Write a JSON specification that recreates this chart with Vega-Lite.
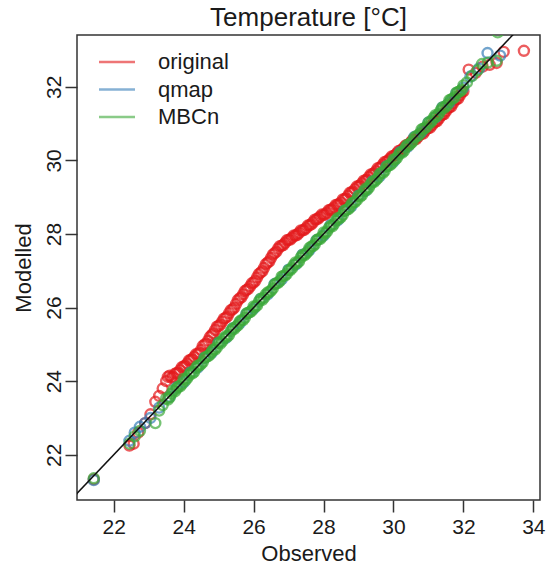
{
  "$schema": "https://vega.github.io/schema/vega-lite/v6.json",
  "width": 463,
  "height": 465,
  "autosize": {"type": "none"},
  "padding": {"left": 77, "top": 35, "right": 6, "bottom": 67},
  "background": "white",
  "config": {
    "font": "Liberation Sans",
    "view": {"stroke": "#333333", "strokeWidth": 1.5},
    "axis": {"grid": false, "domain": false, "tickSize": 12, "tickWidth": 1.5, "tickColor": "#333333", "labelFontSize": 21, "labelColor": "#1a1a1a", "titleFontSize": 22, "titleFontWeight": "normal", "titleColor": "#1a1a1a", "labelFont": "Liberation Sans", "titleFont": "Liberation Sans"}
  },
  "title": {"text": "Temperature [°C]", "fontSize": 26, "fontWeight": "normal", "color": "#1a1a1a", "font": "Liberation Sans", "offset": 4},
  "layer": [
    {
      "data": {"values": [
        {"s":"original","x":21.43,"y":21.33},{"s":"original","x":22.45,"y":22.25},{"s":"original","x":22.57,"y":22.3},{"s":"original","x":22.7,"y":22.6},{"s":"original","x":22.9,"y":22.86},{"s":"original","x":23.05,"y":23.1},{"s":"original","x":23.19,"y":23.44},{"s":"original","x":23.3,"y":23.6},{"s":"original","x":23.4,"y":23.8},
        {"s":"original","x":23.5,"y":24.0},{"s":"original","x":23.6,"y":24.15},{"s":"original","x":23.7,"y":24.12},{"s":"original","x":23.8,"y":24.22},{"s":"original","x":23.9,"y":24.3},{"s":"original","x":24.0,"y":24.4},{"s":"original","x":24.1,"y":24.48},{"s":"original","x":24.2,"y":24.58},{"s":"original","x":24.3,"y":24.66},{"s":"original","x":24.4,"y":24.74},{"s":"original","x":24.5,"y":24.85},{"s":"original","x":24.6,"y":25.0},{"s":"original","x":24.7,"y":25.1},{"s":"original","x":24.8,"y":25.25},{"s":"original","x":24.9,"y":25.39},{"s":"original","x":25.0,"y":25.5},{"s":"original","x":25.1,"y":25.62},{"s":"original","x":25.2,"y":25.72},{"s":"original","x":25.3,"y":25.85},{"s":"original","x":25.4,"y":25.95},{"s":"original","x":25.5,"y":26.1},{"s":"original","x":25.6,"y":26.25},{"s":"original","x":25.7,"y":26.36},{"s":"original","x":25.8,"y":26.48},{"s":"original","x":25.9,"y":26.58},{"s":"original","x":26.0,"y":26.68},{"s":"original","x":26.1,"y":26.82},{"s":"original","x":26.2,"y":26.95},{"s":"original","x":26.3,"y":27.08},{"s":"original","x":26.4,"y":27.22},{"s":"original","x":26.5,"y":27.35},{"s":"original","x":26.6,"y":27.48},{"s":"original","x":26.7,"y":27.6},{"s":"original","x":26.8,"y":27.68},{"s":"original","x":26.9,"y":27.76},{"s":"original","x":27.0,"y":27.84},{"s":"original","x":27.1,"y":27.9},{"s":"original","x":27.2,"y":27.96},{"s":"original","x":27.3,"y":28.03},{"s":"original","x":27.4,"y":28.1},{"s":"original","x":27.5,"y":28.16},{"s":"original","x":27.6,"y":28.24},{"s":"original","x":27.7,"y":28.32},{"s":"original","x":27.8,"y":28.4},{"s":"original","x":27.9,"y":28.47},{"s":"original","x":28.0,"y":28.52},{"s":"original","x":28.1,"y":28.58},{"s":"original","x":28.2,"y":28.66},{"s":"original","x":28.3,"y":28.72},{"s":"original","x":28.4,"y":28.8},{"s":"original","x":28.5,"y":28.86},{"s":"original","x":28.6,"y":28.95},{"s":"original","x":28.7,"y":29.04},{"s":"original","x":28.8,"y":29.13},{"s":"original","x":28.9,"y":29.22},{"s":"original","x":29.0,"y":29.3},{"s":"original","x":29.1,"y":29.38},{"s":"original","x":29.2,"y":29.46},{"s":"original","x":29.3,"y":29.55},{"s":"original","x":29.4,"y":29.63},{"s":"original","x":29.5,"y":29.71},{"s":"original","x":29.6,"y":29.8},{"s":"original","x":29.7,"y":29.89},{"s":"original","x":29.8,"y":29.97},{"s":"original","x":29.9,"y":30.05},{"s":"original","x":30.0,"y":30.12},{"s":"original","x":30.1,"y":30.2},{"s":"original","x":30.2,"y":30.27},{"s":"original","x":30.3,"y":30.35},{"s":"original","x":30.4,"y":30.42},{"s":"original","x":30.5,"y":30.5},{"s":"original","x":30.6,"y":30.57},{"s":"original","x":30.7,"y":30.64},{"s":"original","x":30.8,"y":30.72},{"s":"original","x":30.9,"y":30.8},{"s":"original","x":31.0,"y":30.88},{"s":"original","x":31.1,"y":30.96},{"s":"original","x":31.2,"y":31.05},{"s":"original","x":31.3,"y":31.14},{"s":"original","x":31.4,"y":31.24},{"s":"original","x":31.5,"y":31.34},{"s":"original","x":31.6,"y":31.44},{"s":"original","x":31.7,"y":31.55},{"s":"original","x":31.8,"y":31.66},{"s":"original","x":31.9,"y":31.77},{"s":"original","x":32.0,"y":31.88},
        {"s":"original","x":23.55,"y":24.12},{"s":"original","x":23.65,"y":24.1},{"s":"original","x":23.75,"y":24.2},{"s":"original","x":23.85,"y":24.23},{"s":"original","x":23.95,"y":24.38},{"s":"original","x":24.05,"y":24.42},{"s":"original","x":24.15,"y":24.56},{"s":"original","x":24.25,"y":24.6},{"s":"original","x":24.35,"y":24.73},{"s":"original","x":24.45,"y":24.77},{"s":"original","x":24.55,"y":24.96},{"s":"original","x":24.65,"y":25.02},{"s":"original","x":24.75,"y":25.2},{"s":"original","x":24.85,"y":25.3},{"s":"original","x":24.95,"y":25.48},{"s":"original","x":25.05,"y":25.54},{"s":"original","x":25.15,"y":25.7},{"s":"original","x":25.25,"y":25.76},{"s":"original","x":25.35,"y":25.93},{"s":"original","x":25.45,"y":26.0},{"s":"original","x":25.55,"y":26.2},{"s":"original","x":25.65,"y":26.28},{"s":"original","x":25.75,"y":26.45},{"s":"original","x":25.85,"y":26.51},{"s":"original","x":25.95,"y":26.66},{"s":"original","x":26.05,"y":26.73},{"s":"original","x":26.15,"y":26.91},{"s":"original","x":26.25,"y":26.99},{"s":"original","x":26.35,"y":27.18},{"s":"original","x":26.45,"y":27.26},{"s":"original","x":26.55,"y":27.44},{"s":"original","x":26.65,"y":27.52},{"s":"original","x":26.75,"y":27.67},{"s":"original","x":26.85,"y":27.7},{"s":"original","x":26.95,"y":27.83},{"s":"original","x":27.05,"y":27.85},{"s":"original","x":27.15,"y":27.96},{"s":"original","x":27.25,"y":27.98},{"s":"original","x":27.35,"y":28.1},{"s":"original","x":27.45,"y":28.11},{"s":"original","x":27.55,"y":28.23},{"s":"original","x":27.65,"y":28.26},{"s":"original","x":27.75,"y":28.39},{"s":"original","x":27.85,"y":28.42},{"s":"original","x":27.95,"y":28.53},{"s":"original","x":28.05,"y":28.53},{"s":"original","x":28.15,"y":28.65},{"s":"original","x":28.25,"y":28.67},{"s":"original","x":28.35,"y":28.79},{"s":"original","x":28.45,"y":28.81},{"s":"original","x":28.55,"y":28.94},{"s":"original","x":28.65,"y":28.97},{"s":"original","x":28.75,"y":29.12},{"s":"original","x":28.85,"y":29.15},{"s":"original","x":28.95,"y":29.29},{"s":"original","x":29.05,"y":29.32},{"s":"original","x":29.15,"y":29.45},{"s":"original","x":29.25,"y":29.48},{"s":"original","x":29.35,"y":29.62},{"s":"original","x":29.45,"y":29.65},{"s":"original","x":29.55,"y":29.79},{"s":"original","x":29.65,"y":29.82},{"s":"original","x":29.75,"y":29.96},{"s":"original","x":29.85,"y":29.99},{"s":"original","x":29.95,"y":30.11},{"s":"original","x":30.05,"y":30.14},{"s":"original","x":30.15,"y":30.26},{"s":"original","x":30.25,"y":30.29},{"s":"original","x":30.35,"y":30.41},{"s":"original","x":30.45,"y":30.44},{"s":"original","x":30.55,"y":30.56},{"s":"original","x":30.65,"y":30.58},{"s":"original","x":30.75,"y":30.71},{"s":"original","x":30.85,"y":30.73},{"s":"original","x":30.95,"y":30.87},{"s":"original","x":31.05,"y":30.89},{"s":"original","x":31.15,"y":31.03},{"s":"original","x":31.25,"y":31.07},{"s":"original","x":31.35,"y":31.22},{"s":"original","x":31.45,"y":31.26},{"s":"original","x":31.55,"y":31.42},{"s":"original","x":31.65,"y":31.46},{"s":"original","x":31.75,"y":31.63},{"s":"original","x":31.85,"y":31.68},{"s":"original","x":31.95,"y":31.85},
        {"s":"original","x":32.15,"y":32.47},{"s":"original","x":32.35,"y":32.38},{"s":"original","x":32.55,"y":32.55},{"s":"original","x":32.75,"y":32.6},{"s":"original","x":32.95,"y":32.65},{"s":"original","x":33.15,"y":32.95},{"s":"original","x":33.73,"y":32.98},
        {"s":"qmap","x":21.43,"y":21.31},{"s":"qmap","x":22.45,"y":22.38},{"s":"qmap","x":22.6,"y":22.6},{"s":"qmap","x":22.75,"y":22.76},{"s":"qmap","x":22.9,"y":22.86},{"s":"qmap","x":23.05,"y":23.0},{"s":"qmap","x":23.3,"y":23.28},
        {"s":"qmap","x":23.6,"y":23.58},{"s":"qmap","x":23.8,"y":23.83},{"s":"qmap","x":24.0,"y":23.97},{"s":"qmap","x":24.2,"y":24.24},{"s":"qmap","x":24.4,"y":24.37},{"s":"qmap","x":24.6,"y":24.63},{"s":"qmap","x":24.8,"y":24.77},{"s":"qmap","x":25.0,"y":25.04},{"s":"qmap","x":25.2,"y":25.17},{"s":"qmap","x":25.4,"y":25.43},{"s":"qmap","x":25.6,"y":25.57},{"s":"qmap","x":25.8,"y":25.83},{"s":"qmap","x":26.0,"y":25.97},{"s":"qmap","x":26.2,"y":26.23},{"s":"qmap","x":26.4,"y":26.36},{"s":"qmap","x":26.6,"y":26.64},{"s":"qmap","x":26.8,"y":26.77},{"s":"qmap","x":27.0,"y":27.03},{"s":"qmap","x":27.2,"y":27.17},{"s":"qmap","x":27.4,"y":27.44},{"s":"qmap","x":27.6,"y":27.57},{"s":"qmap","x":27.8,"y":27.83},{"s":"qmap","x":28.0,"y":27.96},{"s":"qmap","x":28.2,"y":28.24},{"s":"qmap","x":28.4,"y":28.37},{"s":"qmap","x":28.6,"y":28.63},{"s":"qmap","x":28.8,"y":28.76},{"s":"qmap","x":29.0,"y":29.04},{"s":"qmap","x":29.2,"y":29.17},{"s":"qmap","x":29.4,"y":29.43},{"s":"qmap","x":29.6,"y":29.57},{"s":"qmap","x":29.8,"y":29.84},{"s":"qmap","x":30.0,"y":29.97},{"s":"qmap","x":30.2,"y":30.23},{"s":"qmap","x":30.4,"y":30.37},{"s":"qmap","x":30.6,"y":30.64},{"s":"qmap","x":30.8,"y":30.77},{"s":"qmap","x":31.0,"y":31.03},{"s":"qmap","x":31.2,"y":31.17},{"s":"qmap","x":31.4,"y":31.44},{"s":"qmap","x":31.6,"y":31.58},{"s":"qmap","x":31.8,"y":31.83},{"s":"qmap","x":32.0,"y":31.98},
        {"s":"qmap","x":32.2,"y":32.28},{"s":"qmap","x":32.45,"y":32.5},{"s":"qmap","x":32.69,"y":32.92},{"s":"qmap","x":33.05,"y":32.85},
        {"s":"MBCn","x":21.43,"y":21.36},{"s":"MBCn","x":22.45,"y":22.3},{"s":"MBCn","x":22.6,"y":22.5},{"s":"MBCn","x":22.75,"y":22.65},{"s":"MBCn","x":23.19,"y":22.86},{"s":"MBCn","x":23.3,"y":23.2},{"s":"MBCn","x":23.4,"y":23.35},
        {"s":"MBCn","x":23.5,"y":23.53},{"s":"MBCn","x":23.6,"y":23.56},{"s":"MBCn","x":23.7,"y":23.75},{"s":"MBCn","x":23.8,"y":23.8},{"s":"MBCn","x":23.9,"y":23.86},{"s":"MBCn","x":24.0,"y":24.06},{"s":"MBCn","x":24.1,"y":24.08},{"s":"MBCn","x":24.2,"y":24.23},{"s":"MBCn","x":24.3,"y":24.25},{"s":"MBCn","x":24.4,"y":24.42},{"s":"MBCn","x":24.5,"y":24.47},{"s":"MBCn","x":24.6,"y":24.64},{"s":"MBCn","x":24.7,"y":24.68},{"s":"MBCn","x":24.8,"y":24.8},{"s":"MBCn","x":24.9,"y":24.86},{"s":"MBCn","x":25.0,"y":25.05},{"s":"MBCn","x":25.1,"y":25.08},{"s":"MBCn","x":25.2,"y":25.22},{"s":"MBCn","x":25.3,"y":25.26},{"s":"MBCn","x":25.4,"y":25.43},{"s":"MBCn","x":25.5,"y":25.48},{"s":"MBCn","x":25.6,"y":25.62},{"s":"MBCn","x":25.7,"y":25.66},{"s":"MBCn","x":25.8,"y":25.84},{"s":"MBCn","x":25.9,"y":25.88},{"s":"MBCn","x":26.0,"y":26.03},{"s":"MBCn","x":26.1,"y":26.06},{"s":"MBCn","x":26.2,"y":26.24},{"s":"MBCn","x":26.3,"y":26.27},{"s":"MBCn","x":26.4,"y":26.41},{"s":"MBCn","x":26.5,"y":26.46},{"s":"MBCn","x":26.6,"y":26.63},{"s":"MBCn","x":26.7,"y":26.67},{"s":"MBCn","x":26.8,"y":26.84},{"s":"MBCn","x":26.9,"y":26.87},{"s":"MBCn","x":27.0,"y":27.02},{"s":"MBCn","x":27.1,"y":27.07},{"s":"MBCn","x":27.2,"y":27.23},{"s":"MBCn","x":27.3,"y":27.26},{"s":"MBCn","x":27.4,"y":27.43},{"s":"MBCn","x":27.5,"y":27.47},{"s":"MBCn","x":27.6,"y":27.62},{"s":"MBCn","x":27.7,"y":27.67},{"s":"MBCn","x":27.8,"y":27.83},{"s":"MBCn","x":27.9,"y":27.86},{"s":"MBCn","x":28.0,"y":28.04},{"s":"MBCn","x":28.1,"y":28.07},{"s":"MBCn","x":28.2,"y":28.22},{"s":"MBCn","x":28.3,"y":28.27},{"s":"MBCn","x":28.4,"y":28.43},{"s":"MBCn","x":28.5,"y":28.46},{"s":"MBCn","x":28.6,"y":28.63},{"s":"MBCn","x":28.7,"y":28.67},{"s":"MBCn","x":28.8,"y":28.82},{"s":"MBCn","x":28.9,"y":28.87},{"s":"MBCn","x":29.0,"y":29.04},{"s":"MBCn","x":29.1,"y":29.06},{"s":"MBCn","x":29.2,"y":29.23},{"s":"MBCn","x":29.3,"y":29.27},{"s":"MBCn","x":29.4,"y":29.42},{"s":"MBCn","x":29.5,"y":29.47},{"s":"MBCn","x":29.6,"y":29.63},{"s":"MBCn","x":29.7,"y":29.66},{"s":"MBCn","x":29.8,"y":29.83},{"s":"MBCn","x":29.9,"y":29.87},{"s":"MBCn","x":30.0,"y":30.03},{"s":"MBCn","x":30.1,"y":30.07},{"s":"MBCn","x":30.2,"y":30.22},{"s":"MBCn","x":30.3,"y":30.26},{"s":"MBCn","x":30.4,"y":30.43},{"s":"MBCn","x":30.5,"y":30.47},{"s":"MBCn","x":30.6,"y":30.62},{"s":"MBCn","x":30.7,"y":30.67},{"s":"MBCn","x":30.8,"y":30.84},{"s":"MBCn","x":30.9,"y":30.87},{"s":"MBCn","x":31.0,"y":31.03},{"s":"MBCn","x":31.1,"y":31.08},{"s":"MBCn","x":31.2,"y":31.23},{"s":"MBCn","x":31.3,"y":31.27},{"s":"MBCn","x":31.4,"y":31.44},{"s":"MBCn","x":31.5,"y":31.48},{"s":"MBCn","x":31.6,"y":31.64},{"s":"MBCn","x":31.7,"y":31.68},{"s":"MBCn","x":31.8,"y":31.84},{"s":"MBCn","x":31.9,"y":31.88},{"s":"MBCn","x":32.0,"y":32.04},
        {"s":"MBCn","x":23.55,"y":23.5},{"s":"MBCn","x":23.65,"y":23.66},{"s":"MBCn","x":23.75,"y":23.72},{"s":"MBCn","x":23.85,"y":23.86},{"s":"MBCn","x":23.95,"y":23.92},{"s":"MBCn","x":24.05,"y":24.02},{"s":"MBCn","x":24.15,"y":24.16},{"s":"MBCn","x":24.25,"y":24.21},{"s":"MBCn","x":24.35,"y":24.36},{"s":"MBCn","x":24.45,"y":24.42},{"s":"MBCn","x":24.55,"y":24.52},{"s":"MBCn","x":24.65,"y":24.66},{"s":"MBCn","x":24.75,"y":24.72},{"s":"MBCn","x":24.85,"y":24.86},{"s":"MBCn","x":24.95,"y":24.92},{"s":"MBCn","x":25.05,"y":25.02},{"s":"MBCn","x":25.15,"y":25.16},{"s":"MBCn","x":25.25,"y":25.21},{"s":"MBCn","x":25.35,"y":25.36},{"s":"MBCn","x":25.45,"y":25.42},{"s":"MBCn","x":25.55,"y":25.52},{"s":"MBCn","x":25.65,"y":25.66},{"s":"MBCn","x":25.75,"y":25.72},{"s":"MBCn","x":25.85,"y":25.86},{"s":"MBCn","x":25.95,"y":25.92},{"s":"MBCn","x":26.05,"y":26.02},{"s":"MBCn","x":26.15,"y":26.16},{"s":"MBCn","x":26.25,"y":26.21},{"s":"MBCn","x":26.35,"y":26.36},{"s":"MBCn","x":26.45,"y":26.42},{"s":"MBCn","x":26.55,"y":26.52},{"s":"MBCn","x":26.65,"y":26.66},{"s":"MBCn","x":26.75,"y":26.72},{"s":"MBCn","x":26.85,"y":26.86},{"s":"MBCn","x":26.95,"y":26.92},{"s":"MBCn","x":27.05,"y":27.02},{"s":"MBCn","x":27.15,"y":27.16},{"s":"MBCn","x":27.25,"y":27.21},{"s":"MBCn","x":27.35,"y":27.36},{"s":"MBCn","x":27.45,"y":27.42},{"s":"MBCn","x":27.55,"y":27.52},{"s":"MBCn","x":27.65,"y":27.66},{"s":"MBCn","x":27.75,"y":27.72},{"s":"MBCn","x":27.85,"y":27.86},{"s":"MBCn","x":27.95,"y":27.92},{"s":"MBCn","x":28.05,"y":28.02},{"s":"MBCn","x":28.15,"y":28.16},{"s":"MBCn","x":28.25,"y":28.21},{"s":"MBCn","x":28.35,"y":28.36},{"s":"MBCn","x":28.45,"y":28.42},{"s":"MBCn","x":28.55,"y":28.52},{"s":"MBCn","x":28.65,"y":28.66},{"s":"MBCn","x":28.75,"y":28.72},{"s":"MBCn","x":28.85,"y":28.86},{"s":"MBCn","x":28.95,"y":28.92},{"s":"MBCn","x":29.05,"y":29.02},{"s":"MBCn","x":29.15,"y":29.16},{"s":"MBCn","x":29.25,"y":29.21},{"s":"MBCn","x":29.35,"y":29.36},{"s":"MBCn","x":29.45,"y":29.42},{"s":"MBCn","x":29.55,"y":29.52},{"s":"MBCn","x":29.65,"y":29.66},{"s":"MBCn","x":29.75,"y":29.72},{"s":"MBCn","x":29.85,"y":29.86},{"s":"MBCn","x":29.95,"y":29.92},{"s":"MBCn","x":30.05,"y":30.02},{"s":"MBCn","x":30.15,"y":30.16},{"s":"MBCn","x":30.25,"y":30.21},{"s":"MBCn","x":30.35,"y":30.36},{"s":"MBCn","x":30.45,"y":30.42},{"s":"MBCn","x":30.55,"y":30.52},{"s":"MBCn","x":30.65,"y":30.66},{"s":"MBCn","x":30.75,"y":30.72},{"s":"MBCn","x":30.85,"y":30.86},{"s":"MBCn","x":30.95,"y":30.92},{"s":"MBCn","x":31.05,"y":31.02},{"s":"MBCn","x":31.15,"y":31.16},{"s":"MBCn","x":31.25,"y":31.21},{"s":"MBCn","x":31.35,"y":31.36},{"s":"MBCn","x":31.45,"y":31.42},{"s":"MBCn","x":31.55,"y":31.52},{"s":"MBCn","x":31.65,"y":31.66},{"s":"MBCn","x":31.75,"y":31.72},{"s":"MBCn","x":31.85,"y":31.86},{"s":"MBCn","x":31.95,"y":31.92},
        {"s":"MBCn","x":32.1,"y":32.12},{"s":"MBCn","x":32.25,"y":32.3},{"s":"MBCn","x":32.4,"y":32.45},{"s":"MBCn","x":32.53,"y":32.62},{"s":"MBCn","x":32.7,"y":32.66},{"s":"MBCn","x":32.95,"y":32.71},{"s":"MBCn","x":32.98,"y":33.48}
      ]},
      "mark": {"type": "point", "shape": "circle", "filled": false, "size": 100, "strokeWidth": 2.4, "opacity": 0.7, "clip": true},
      "encoding": {
        "x": {"field": "x", "type": "quantitative", "scale": {"domain": [20.95, 34.19], "nice": false, "zero": false}, "axis": {"values": [22, 24, 26, 28, 30, 32, 34], "title": "Observed", "labelPadding": 4, "titlePadding": 6}},
        "y": {"field": "y", "type": "quantitative", "scale": {"domain": [20.77, 33.41], "nice": false, "zero": false}, "axis": {"values": [22, 24, 26, 28, 30, 32], "title": "Modelled", "labelAngle": 270, "labelAlign": "center", "labelBaseline": "bottom", "labelPadding": 1, "titlePadding": 8}},
        "color": {"field": "s", "type": "nominal", "scale": {"domain": ["original", "qmap", "MBCn"], "range": ["#E41A1C", "#377EB8", "#3DAA3A"]},
          "legend": {"title": null, "orient": "none", "legendX": 29, "legendY": 16, "padding": 0, "symbolType": "M-2,0H2", "symbolSize": 324, "symbolStrokeWidth": 2.5, "symbolOpacity": 0.6, "labelFontSize": 22, "labelColor": "#1a1a1a", "labelFont": "Liberation Sans", "labelOffset": 30, "rowPadding": 5.5}}
      }
    },
    {
      "data": {"values": [{"a": 20}, {"a": 35}]},
      "mark": {"type": "line", "color": "#111111", "strokeWidth": 1.5, "clip": true},
      "encoding": {
        "x": {"field": "a", "type": "quantitative"},
        "y": {"field": "a", "type": "quantitative"}
      }
    }
  ]
}
